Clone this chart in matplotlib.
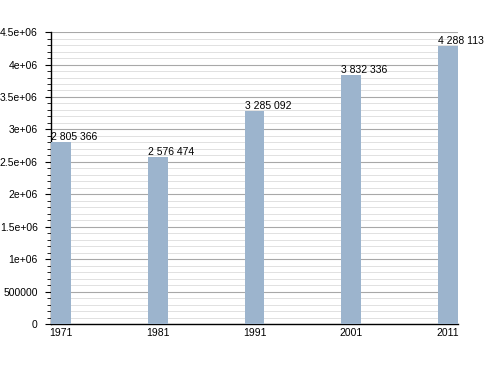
import matplotlib.pyplot as plt
from matplotlib.ticker import MultipleLocator
import numpy as np

years = ['1971', '1981', '1991', '2001', '2011']
population = [2805366, 2576474, 3285092, 3832336, 4288113]
value_labels = ['2 805 366', '2 576 474', '3 285 092', '3 832 336', '4 288 113']
ytick_labels = ['0', '500000', '1e+06', '1.5e+06', '2e+06', '2.5e+06',
                '3e+06', '3.5e+06', '4e+06', '4.5e+06']

plt.rcParams['font.family'] = ['Liberation Sans', 'DejaVu Sans']

fig = plt.figure(figsize=(4.88, 3.73), dpi=100)
ax = fig.add_axes([0.1045, 0.131, 0.834, 0.783])

x = np.arange(len(years))
w = 0.206
ax.bar(x, population, width=w, color='#9cb4cd', zorder=3)
for xi, v, lab in zip(x, population, value_labels):
    ax.text(xi - w / 2, v + 5000, lab, ha='left', va='bottom', fontsize=7.5)

ax.set_xlim(-w / 2, x[-1] + w / 2)
ax.set_ylim(0, 4500000)
ax.set_xticks(x)
ax.set_xticklabels(years)
ax.set_yticks(np.arange(0, 4500001, 500000))
ax.set_yticklabels(ytick_labels)
ax.yaxis.set_minor_locator(MultipleLocator(100000))

ax.grid(axis='y', which='major', color='#a8a8a8', linewidth=0.8, zorder=0)
ax.grid(axis='y', which='minor', color='#dcdcdc', linewidth=0.6, zorder=0)
ax.set_axisbelow(True)

for s in ['top', 'right']:
    ax.spines[s].set_visible(False)
ax.spines['left'].set_linewidth(1.0)
ax.spines['bottom'].set_linewidth(1.0)
ax.tick_params(axis='both', labelsize=7.5, width=0.8)
ax.tick_params(axis='y', which='major', length=4.5, pad=5)
ax.tick_params(axis='y', which='minor', length=3, width=0.6)
ax.tick_params(axis='x', length=0, pad=3)

fig.savefig('out.png', dpi=100)
